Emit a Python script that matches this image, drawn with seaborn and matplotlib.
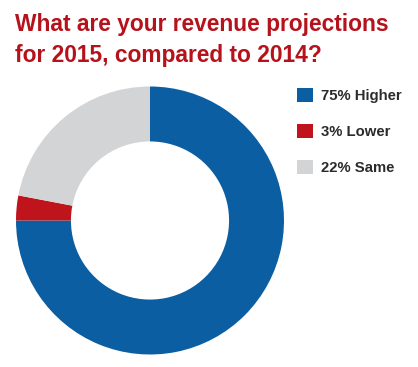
import matplotlib
matplotlib.use("Agg")
import matplotlib.pyplot as plt
import seaborn as sns

# Survey answers
labels = ["75% Higher", "3% Lower", "22% Same"]
shares = [75, 3, 22]
colors = ["#0B5EA2", "#C0141C", "#D3D4D6"]

title = "What are your revenue projections\nfor 2015, compared to 2014?"

sns.set_style("white")
plt.rcParams['font.family'] = ['Liberation Sans', 'DejaVu Sans']

W, H = 418, 367
fig = plt.figure(figsize=(W / 100, H / 100), dpi=100)

# donut centre (150, 220) px, outer radius 134 px
cx, cy, r = 150, 220.5, 134
ax = fig.add_axes([(cx - r) / W, (H - cy - r) / H, 2 * r / W, 2 * r / H])
wedges, _ = ax.pie(shares, colors=colors, startangle=90, counterclock=False,
                   wedgeprops=dict(width=0.41, linewidth=0))
ax.set_xlim(-1, 1)
ax.set_ylim(-1, 1)
ax.set_aspect("equal")
ax.axis("off")

fig.text(15 / W, 1 - 13 / H, title, ha="left", va="top", fontsize=16.4,
         fontweight="bold", color="#B5121B", linespacing=1.47)

leg = fig.legend(wedges, labels, loc="upper left",
                 bbox_to_anchor=(291 / W, 1 - 82 / H), frameon=False,
                 fontsize=10.7, handlelength=1.05, handleheight=1.05,
                 handletextpad=0.55, labelspacing=1.42, borderaxespad=0)
for t in leg.get_texts():
    t.set_fontweight("bold")
    t.set_color("#2B2B2B")

fig.savefig("out.png", dpi=100)
